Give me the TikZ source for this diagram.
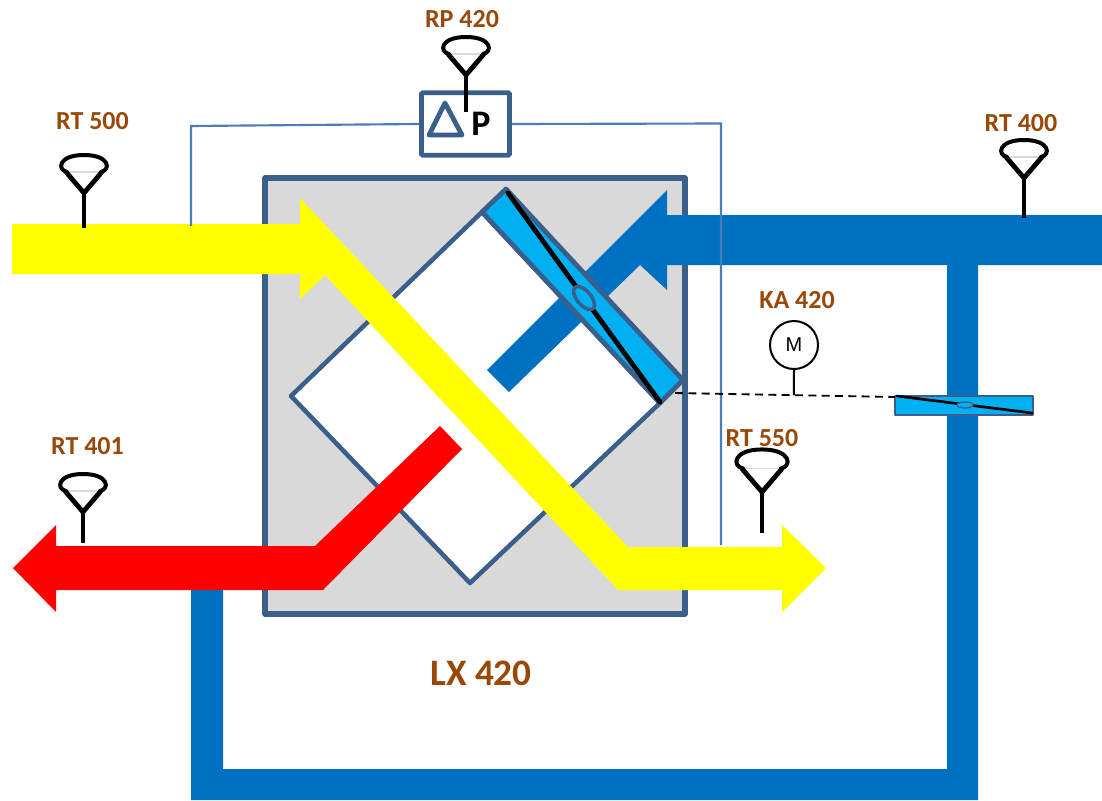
\documentclass[tikz,border=0pt]{standalone}
\usepackage{fontspec}
\setmainfont{Carlito}
\newfontfamily\motorfont{Liberation Sans}
\usepackage{xcolor}
\usetikzlibrary{shapes.geometric, arrows.meta, positioning, calc}
\definecolor{frameblue}{HTML}{3A5F8B}
\definecolor{pipeblue}{HTML}{0070C0}
\definecolor{damperblue}{HTML}{00B0F0}
\definecolor{wireblue}{HTML}{4A7EBB}
\definecolor{tagbrown}{HTML}{984807}
\definecolor{unitgray}{HTML}{D9D9D9}
\definecolor{airyellow}{HTML}{FFFF00}
\definecolor{airred}{HTML}{FF0000}
\tikzset{
  unit/.style={draw=frameblue, fill=unitgray, line width=4.2pt, line join=round},
  core/.style={draw=frameblue, fill=white, line width=3.4pt, line join=round},
  damper/.style={draw=frameblue, fill=damperblue, line join=round},
  blade/.style={draw=black, line cap=round},
  hub/.style={draw=frameblue, fill=damperblue},
  wire/.style={draw=wireblue, line width=1.6pt},
  tag/.style={font=\fontsize{19.5}{22}\bfseries, text=tagbrown, inner sep=0pt},
  dpbox/.style={rectangle, draw=frameblue, fill=white, line width=3.6pt, rounded corners=1pt,
                minimum width=66pt, minimum height=47pt, inner sep=0pt},
  motor/.style={circle, draw=black, fill=white, line width=1.5pt, minimum size=36pt,
                inner sep=0pt, font=\motorfont\fontsize{15}{16}\selectfont},
  sensor/.pic={
    \draw[black!15, line width=0.8pt] (-18,-21) -- (18,-21);
    \draw[black, line width=3pt, line join=round, line cap=round]
      (-17,-21) .. controls (-27,-23) and (-26,-38) .. (0,-38)
      .. controls (26,-38) and (27,-23) .. (17,-21);
    \draw[black, line width=3.6pt, line join=miter] (-18,-21) -- (0,0) -- (18,-21);
    \draw[black, line width=3.6pt] (0,0) -- (0,#1);
  },
}
\begin{document}
\begin{tikzpicture}[x=0.75pt, y=-0.75pt]
  \useasboundingbox (0,0) rectangle (1102,800);

  % air handling unit with exchanger
  \draw[unit] (265,178) rectangle (685,614);
  \draw[core] (291,396) -- (482,212) -- (660,403) -- (470,583) -- cycle;

  % extract air and the bypass duct
  \fill[pipeblue] (1102,215) -- (667,215) -- (667,190) -- (617,240) -- (487,370) -- (509,392)
    -- (640,265) -- (667,290) -- (667,265) -- (1102,265) -- cycle;
  \fill[pipeblue] (191,587) -- (223,587) -- (223,769) -- (947,769) -- (947,265) -- (978,265)
    -- (978,800) -- (191,800) -- cycle;

  % supply and exhaust air
  \fill[airyellow] (12,224) -- (300,224) -- (300,198) -- (628,547) -- (782,547) -- (782,525)
    -- (826,568) -- (782,612) -- (782,590) -- (618,590) -- (325,275) -- (300,299)
    -- (300,274) -- (12,274) -- cycle;
  \fill[airred] (13,568) -- (56,525) -- (56,546) -- (315,546) -- (440,426) -- (462,449)
    -- (323,590) -- (56,590) -- (56,612) -- cycle;

  % pressure switch
  \node[dpbox] (rp) at (465.5,124) {};
  \draw[draw=frameblue, line width=3.6pt, line join=round] (445,103) -- (429,135) -- (462,135) -- cycle;
  \node[font=\fontsize{27}{28}\bfseries, inner sep=0pt] (dp) at (481,124) {P};
  \coordinate (tapin) at (191,226);
  \coordinate (tapout) at (721,545);
  \draw[wire] (rp.west) -- (191,126) -- (tapin);
  \draw[wire] (rp.east) -- (721,123.5) -- (tapout);

  % bypass damper at the exchanger
  \draw[damper, line width=3.6pt] (506,189) -- (482,212) -- (660,403) -- (683,380) -- cycle;
  \coordinate (bladea) at (508,193);
  \coordinate (bladeb) at (660,402);
  \draw[blade, line width=3.6pt] (bladea) -- (bladeb);
  \draw[hub, line width=2.6pt] (584,298) ellipse[x radius=14, y radius=7, rotate=-50];

  % damper in the duct
  \draw[damper, line width=0.8pt] (895,396) rectangle (1033,415);
  \coordinate (bladec) at (897,396);
  \coordinate (bladed) at (1032,413);
  \draw[blade, line width=2pt] (bladec) -- (bladed);
  \draw[hub, line width=1pt] (965,405) ellipse[x radius=8, y radius=3];

  % actuator
  \node[motor] (ka) at (794,345) {M};
  \coordinate (linka) at (675,393);
  \coordinate (linkb) at (895,397);
  \coordinate (kafoot) at ($(linka)!0.54!(linkb)$);
  \draw[black, line width=1.4pt, dash pattern=on 6pt off 4pt] (linka) -- (linkb);
  \draw[black, line width=1.5pt] (ka.south) -- (kafoot);

  % sensors
  \pic at (84,193) {sensor=35};
  \pic at (466,75) {sensor=37};
  \pic at (1024,178) {sensor=40};
  \pic at (83,512) {sensor=31};
  \pic[scale=1.12] at (762,492) {sensor=37};

  % tags
  \node[tag] (t500) at (92.5,121) {RT 500};
  \node[tag] (t420) at (462,19) {RP 420};
  \node[tag] (t400) at (1021,123) {RT 400};
  \node[tag] (k420) at (797,300) {KA 420};
  \node[tag] (t401) at (87.5,446) {RT 401};
  \node[tag] (t550) at (762,438) {RT 550};
  \node[tag, font=\fontsize{28}{30}\bfseries] (lx) at (481,673) {LX 420};
\end{tikzpicture}
\end{document}
